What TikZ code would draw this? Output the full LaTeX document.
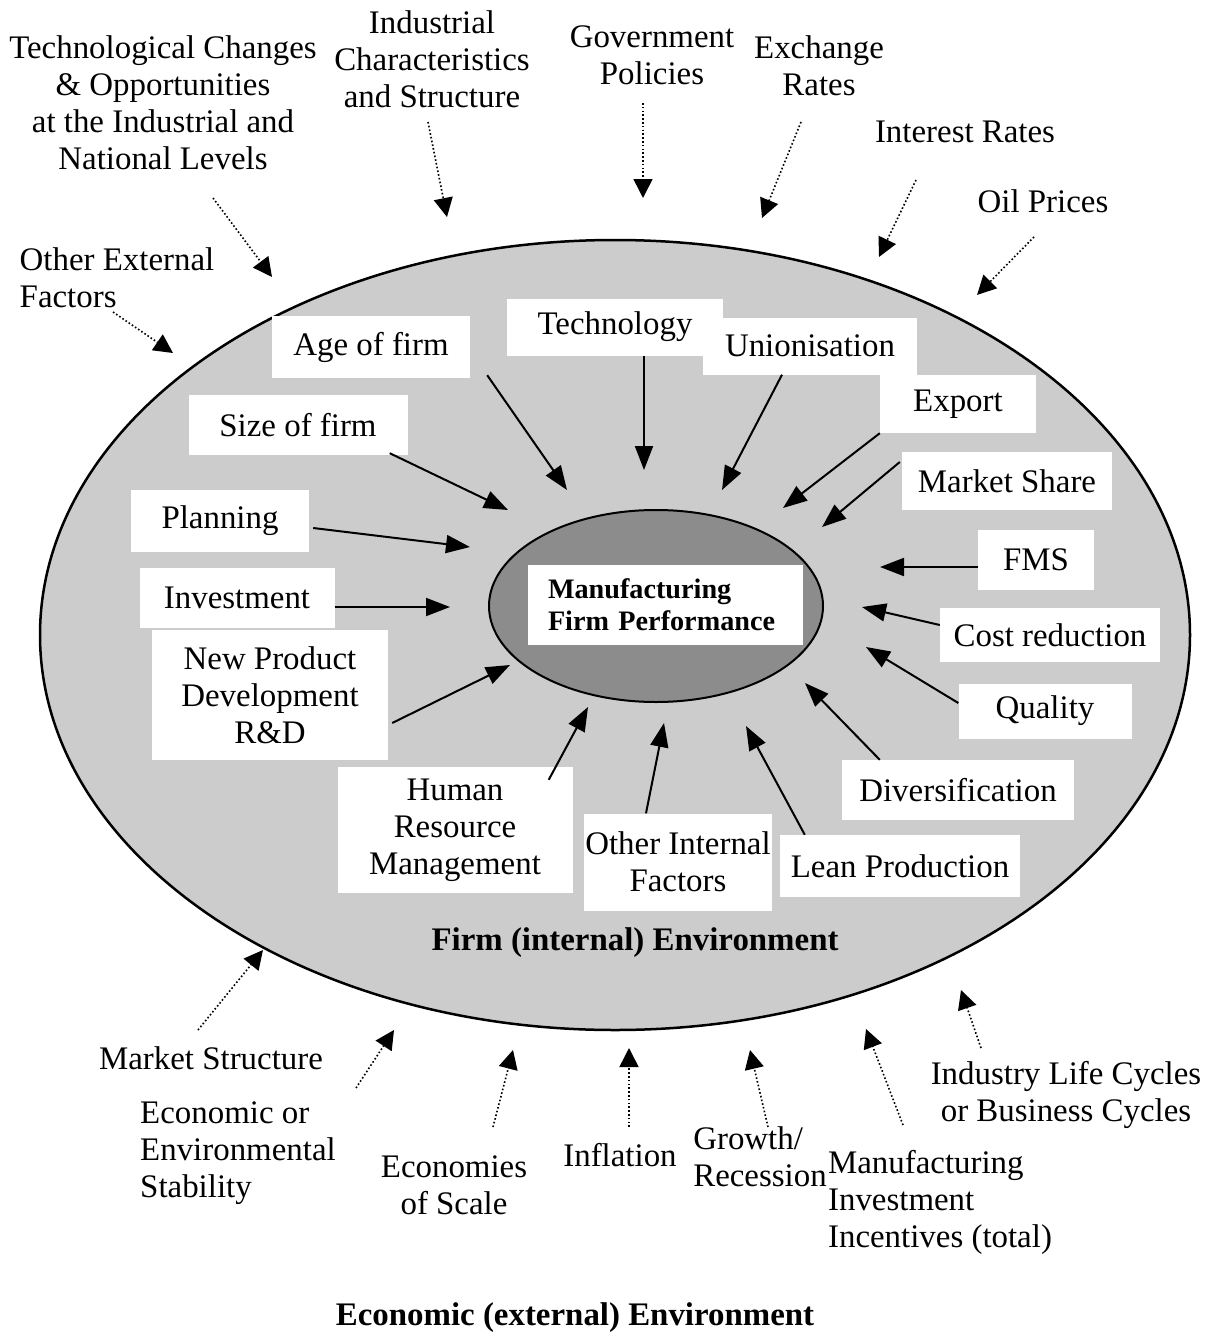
\documentclass[tikz,border=0pt]{standalone}
\usepackage{fontspec}
\setmainfont{Liberation Serif}
\usetikzlibrary{positioning, calc, shapes.geometric, arrows.meta}
\tikzstyle{Arrow} = [
%solid arrow into the performance oval:
line width=2pt,
-{Triangle[length=24pt, width=18pt]}
]
\tikzstyle{DotArrow} = [
%dotted arrow from the outside factors:
line width=1.6pt, dash pattern=on 1.6pt off 2.2pt,
-{Triangle[length=19pt, width=19pt]}
]
\newcommand{\lblfont}{\fontsize{32.9}{37}\selectfont}

\begin{document}
\begin{tikzpicture}[x=1pt, y=-1pt,
		firm/.style = {ellipse, draw, line width=2.5pt, fill=black!20, inner sep=0pt},
		core/.style = {ellipse, draw, line width=2pt, fill=black!45, inner sep=0pt},
		factor/.style = {rectangle, fill=white, inner sep=0pt, align=center, font=\lblfont},
		outside/.style = {inner sep=0pt, align=center, font=\lblfont},
		heading/.style = {inner sep=0pt, font=\lblfont\bfseries},
	]
	\useasboundingbox (0,0) rectangle (1213,1335);

	% the two ovals
	\node[firm, minimum width=1150pt, minimum height=790pt] (FirmEnv) at (615,635) {};
	\node[core, minimum width=334pt, minimum height=192pt] (PerfOval) at (656,606) {};
	\node[fill=white, inner xsep=20pt, inner ysep=0pt, minimum height=80pt, text width=235pt, align=left,
		font=\fontsize{28.2}{32}\selectfont\bfseries] (Perf) at (665.5,605) {Manufacturing\\Firm Performance};

	% internal factors
	\node[factor, minimum width=216pt, minimum height=57pt] (Tech) at (615,327) {Technology};
	\node[factor, minimum width=214pt, minimum height=57pt] (Union) at (810,346) {Unionisation};
	\node[factor, minimum width=156pt, minimum height=58pt] (Export) at (958,404) {Export};
	\node[factor, minimum width=210pt, minimum height=58pt] (MShare) at (1007,481) {Market Share};
	\node[factor, minimum width=116pt, minimum height=60pt] (FMS) at (1036,560) {FMS};
	\node[factor, minimum width=220pt, minimum height=54pt] (Cost) at (1050,635) {Cost reduction};
	\node[factor, minimum width=173pt, minimum height=55pt] (Quality) at (1045,711) {Quality};
	\node[factor, minimum width=232pt, minimum height=60pt] (Divers) at (958,790) {Diversification};
	\node[factor, minimum width=240pt, minimum height=62pt] (Lean) at (900,866) {Lean Production};
	\node[factor, minimum width=188pt, minimum height=97pt] (OtherInt) at (678,862) {Other Internal\\Factors};
	\node[factor, minimum width=235pt, minimum height=126pt] (HRM) at (455,830) {Human\\Resource\\Management};
	\node[factor, minimum width=236pt, minimum height=130pt] (NPD) at (270,695) {New Product\\Development\\R\&D};
	\node[factor, minimum width=195pt, minimum height=60pt] (Invest) at (237,598) {Investment};
	\node[factor, minimum width=178pt, minimum height=62pt] (Plan) at (220,521) {Planning};
	\node[factor, minimum width=219pt, minimum height=60pt] (Size) at (298,425) {Size of firm};
	\node[factor, minimum width=198pt, minimum height=62pt] (Age) at (371,347) {Age of firm};

	\node[heading] (FirmLbl) at (635,943) {Firm (internal) Environment};

	% external factors
	\node[outside] (TechChg) at (163,103) {Technological Changes\\\& Opportunities\\at the Industrial and\\National Levels};
	\node[outside] (IndChar) at (432,59) {Industrial\\Characteristics\\and Structure};
	\node[outside] (Gov) at (652,55) {Government\\Policies};
	\node[outside] (Exch) at (819,66) {Exchange\\Rates};
	\node[outside] (Interest) at (965,132) {Interest Rates};
	\node[outside] (Oil) at (1043,201) {Oil Prices};
	\node[outside, align=left] (OtherExt) at (117,278) {Other External\\Factors};
	\node[outside] (MStruct) at (211,1058) {Market Structure};
	\node[outside, align=left] (EconStab) at (238,1153) {Economic or\\Environmental\\Stability};
	\node[outside] (EconScale) at (454,1185) {Economies\\of Scale};
	\node[outside] (Infl) at (620,1155) {Inflation};
	\node[outside, align=left] (Growth) at (760,1157) {Growth/\\Recession};
	\node[outside, align=left] (MfgInv) at (940,1202) {Manufacturing\\Investment\\Incentives (total)};
	\node[outside] (LifeCyc) at (1066,1095) {Industry Life Cycles\\or Business Cycles};

	\node[heading] (EconLbl) at (575,1318) {Economic (external) Environment};

	% arrow tips
	\foreach \n/\x/\y in {tTech/644/470, tUnion/722/490, tExport/783/508, tMShare/822/527, tFMS/880/567,
		tCost/862/607, tQuality/866/647, tDivers/805/683, tLean/746/726, tOtherInt/664/723, tHRM/588/707,
		tNPD/510/665, tInvest/450/607, tPlan/470/547, tSize/508/510, tAge/567/490,
		tTechChg/272/277, tIndChar/447/217, tGov/643/198, tExch/762/218, tInterest/879/257, tOil/977/295,
		tOtherExt/173/353, tMStruct/263/950, tEconStab/394/1030, tEconScale/513/1050, tInfl/629/1048,
		tGrowth/750/1050, tMfgInv/866/1029, tLifeCyc/961/990}
		\coordinate (\n) at (\x,\y);

	\draw[Arrow] ($(Tech.south)+(29,0)$) -- (tTech);
	\draw[Arrow] ($(Union.south)+(-28,0)$) -- (tUnion);
	\draw[Arrow] (Export.south west) -- (tExport);
	\draw[Arrow] ($(MShare.west)+(-2,-19)$) -- (tMShare);
	\draw[Arrow] ($(FMS.west)+(0,7)$) -- (tFMS);
	\draw[Arrow] ($(Cost.west)+(0,-10)$) -- (tCost);
	\draw[Arrow] ($(Quality.west)+(0,-8)$) -- (tQuality);
	\draw[Arrow] ($(Divers.north west)+(38,0)$) -- (tDivers);
	\draw[Arrow] ($(Lean.north west)+(25,0)$) -- (tLean);
	\draw[Arrow] ($(OtherInt.north)+(-32,0)$) -- (tOtherInt);
	\draw[Arrow] ($(HRM.north east)+(-24,13)$) -- (tHRM);
	\draw[Arrow] ($(NPD.east)+(4,28)$) -- (tNPD);
	\draw[Arrow] ($(Invest.east)+(0,9)$) -- (tInvest);
	\draw[Arrow] ($(Plan.east)+(4,7)$) -- (tPlan);
	\draw[Arrow] ($(Size.south east)+(-18,-2)$) -- (tSize);
	\draw[Arrow] ($(Age.south east)+(17,-3)$) -- (tAge);

	\draw[DotArrow] ($(TechChg)+(50,95)$) -- (tTechChg);
	\draw[DotArrow] ($(IndChar)+(-4,63)$) -- (tIndChar);
	\draw[DotArrow] ($(Gov)+(-9,48)$) -- (tGov);
	\draw[DotArrow] ($(Exch)+(-18,56)$) -- (tExch);
	\draw[DotArrow] ($(Interest)+(-49,48)$) -- (tInterest);
	\draw[DotArrow] ($(Oil)+(-9,36)$) -- (tOil);
	\draw[DotArrow] ($(OtherExt)+(-4,34)$) -- (tOtherExt);
	\draw[DotArrow] ($(MStruct)+(-13,-28)$) -- (tMStruct);
	\draw[DotArrow] ($(EconStab)+(118,-65)$) -- (tEconStab);
	\draw[DotArrow] ($(EconScale)+(39,-58)$) -- (tEconScale);
	\draw[DotArrow] ($(Infl)+(9,-28)$) -- (tInfl);
	\draw[DotArrow] ($(Growth)+(8,-30)$) -- (tGrowth);
	\draw[DotArrow] ($(MfgInv)+(-37,-77)$) -- (tMfgInv);
	\draw[DotArrow] ($(LifeCyc)+(-85,-47)$) -- (tLifeCyc);
\end{tikzpicture}
\end{document}
